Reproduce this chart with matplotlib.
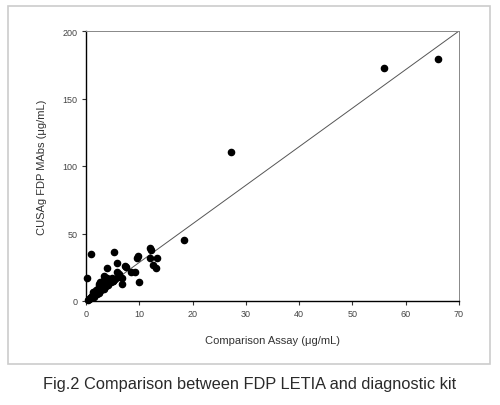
import matplotlib
matplotlib.use("Agg")
import matplotlib.pyplot as plt
from matplotlib.patches import Rectangle

plt.rcParams['font.family'] = ['Liberation Sans', 'DejaVu Sans']

# Data
comparison = [55.9, 66.1, 27.3, 18.4, 1.0, 0.25, 5.3, 5.75, 4.0, 7.4, 7.6,
              9.7, 9.6, 12.1, 12.1, 12.2, 13.4, 12.5, 13.1, 10.0, 9.2, 8.5,
              5.9, 6.25, 6.75, 6.75, 5.1, 3.9, 3.4, 2.6, 2.4,
              0.3, 0.5, 0.7, 0.9, 1.0, 1.2, 1.3, 1.5, 1.6, 1.8, 2.0, 2.1,
              2.3, 2.5, 2.6, 2.8, 3.0, 3.0, 3.2, 3.3, 3.5, 3.6, 3.8, 4.0,
              4.2, 4.4, 4.6, 5.0, 5.5, 2.8, 3.2, 2.5, 1.9, 1.4, 4.8, 6.0]
cusag = [172.6, 179.5, 110.3, 45.0, 34.9, 16.8, 36.3, 27.9, 24.7, 26.2, 25.0,
         33.1, 31.5, 39.0, 31.6, 37.5, 32.1, 27.0, 24.2, 14.3, 21.8, 21.8,
         21.3, 19.8, 17.3, 12.4, 15.0, 16.8, 18.3, 14.3, 12.6,
         0.5, 1.5, 2.0, 3.0, 2.0, 4.0, 5.0, 3.0, 6.0, 5.0, 7.0, 5.0,
         8.0, 6.0, 9.0, 8.0, 10.0, 13.0, 11.0, 9.0, 12.0, 14.0, 11.0, 13.0,
         12.0, 15.0, 14.0, 15.0, 16.0, 13.0, 15.0, 11.0, 8.0, 7.0, 17.0, 18.0]
line_x = [0, 70]
line_y = [0, 200]

x_ticks = [0, 10, 20, 30, 40, 50, 60, 70]
y_ticks = [0, 50, 100, 150, 200]

fig = plt.figure(figsize=(5.0, 4.06), dpi=100)
fig.patches.append(Rectangle((8/500, 1-365/406), (490-8)/500, (365-7)/406,
                             transform=fig.transFigure, fill=False,
                             edgecolor='#cccccc', linewidth=1.2))

ax = fig.add_axes([86/500, 1-302/406, (459-86)/500, (302-32)/406])
ax.plot(line_x, line_y, color='#555555', linewidth=0.7, zorder=2)
ax.scatter(comparison, cusag, s=20, color='black', zorder=3, clip_on=False)

ax.set_xlim(0, 70)
ax.set_ylim(0, 200)
ax.set_xticks(x_ticks)
ax.set_yticks(y_ticks)
ax.tick_params(direction='out', length=3, width=0.8, labelsize=6.5,
               labelcolor='#444444', color='#333333', pad=3)
for s in ['left', 'bottom']:
    ax.spines[s].set_color('black')
    ax.spines[s].set_linewidth(1.0)
for s in ['top', 'right']:
    ax.spines[s].set_color('#888888')
    ax.spines[s].set_linewidth(0.7)

ax.set_xlabel('Comparison Assay (μg/mL)', fontsize=8, color='#333333', labelpad=12)
ax.set_ylabel('CUSAg FDP MAbs (μg/mL)', fontsize=8, color='#333333', labelpad=11)

fig.text(0.5, 1-385/406, 'Fig.2 Comparison between FDP LETIA and diagnostic kit',
         ha='center', va='center', fontsize=11.8, color='#2a2a2a')

fig.savefig('out.png', dpi=100)
